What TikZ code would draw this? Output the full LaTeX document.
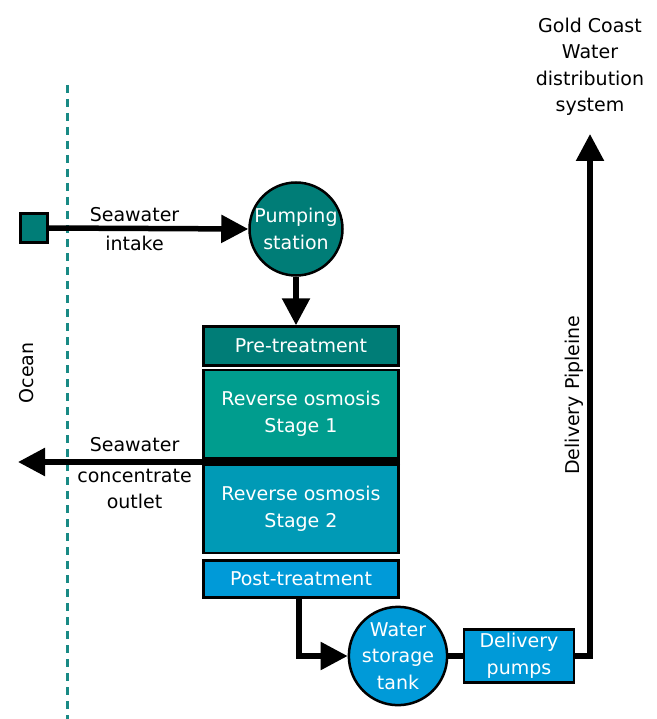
\documentclass[tikz,border=0pt]{standalone}
\usepackage{fontspec}
\setmainfont{DejaVu Sans}
\usetikzlibrary{arrows.meta}
\definecolor{tealdark}{HTML}{007D77}
\definecolor{tealmid}{HTML}{009D8E}
\definecolor{bluemid}{HTML}{009AB6}
\definecolor{bluelight}{HTML}{009AD8}
\begin{document}
\begin{tikzpicture}[x=1pt,y=-1pt,
  every node/.style={font=\fontsize{19}{26.5}\selectfont},
  unit/.style={draw=black,line width=2.5pt,text=white,align=center,inner sep=0pt},
  stage/.style={unit,minimum width=195pt},
  tank/.style={unit,circle,minimum size=93pt},
  pipe/.style={line width=5.5pt},
  flow/.style={pipe,-{Triangle[length=27pt,width=27pt]}}]
  \useasboundingbox (0,0) rectangle (656,719);
  % ocean edge
  \draw[tealdark!90!white,line width=3pt,dash pattern=on 8pt off 6pt] (67,85) -- (67,719);
  \node[rotate=90] (ocean) at (27,373) {Ocean};
  % intake and pumping
  \node[unit,fill=tealdark,minimum width=27pt,minimum height=29pt] (intake) at (34,228) {};
  \node[tank,fill=tealdark] (pump) at (296,229) {Pumping\\station};
  % treatment train
  \node[stage,fill=tealdark,minimum height=39pt] (pre) at (301,346) {Pre-treatment};
  \node[stage,fill=tealmid,minimum height=88pt] (ro1) at (301,414) {Reverse osmosis\\Stage 1};
  \node[stage,fill=bluemid,minimum height=88pt] (ro2) at (301,509) {Reverse osmosis\\Stage 2};
  \node[stage,fill=bluelight,minimum height=37pt] (post) at (301,579) {Post-treatment};
  % storage and delivery
  \node[tank,fill=bluelight] (store) at (398,656) {Water\\storage\\tank};
  \node[unit,fill=bluelight,minimum width=110pt,minimum height=53pt] (deliv) at (519,656) {Delivery\\pumps};
  \coordinate (brine) at (400,462);
  \coordinate (sea) at (18,462);
  \coordinate (city) at (590,134);
  \node[align=center,anchor=south] (gold) at (590,119) {Gold Coast\\Water\\distribution\\system};
  % connectors
  \draw[flow] (intake.east) -- node[pos=0.43,above=1pt] {Seawater} node[pos=0.43,below=2pt] {intake} (pump.west);
  \draw[flow] (pump.south) -- (pre.north -| pump.south);
  \draw[flow] (brine) -- (203,462) -- node[pos=0.37,above=4pt] {Seawater} node[pos=0.37,below=1pt,align=center] {concentrate\\outlet} (sea);
  \draw[flow] (post.south -| 299,0) |- (store.west);
  \draw[pipe] (store.east) -- (deliv.west);
  \draw[flow] (deliv.east) -| (city) node[pos=0.745,above=5pt,rotate=90] {Delivery Pipleine};
\end{tikzpicture}
\end{document}
